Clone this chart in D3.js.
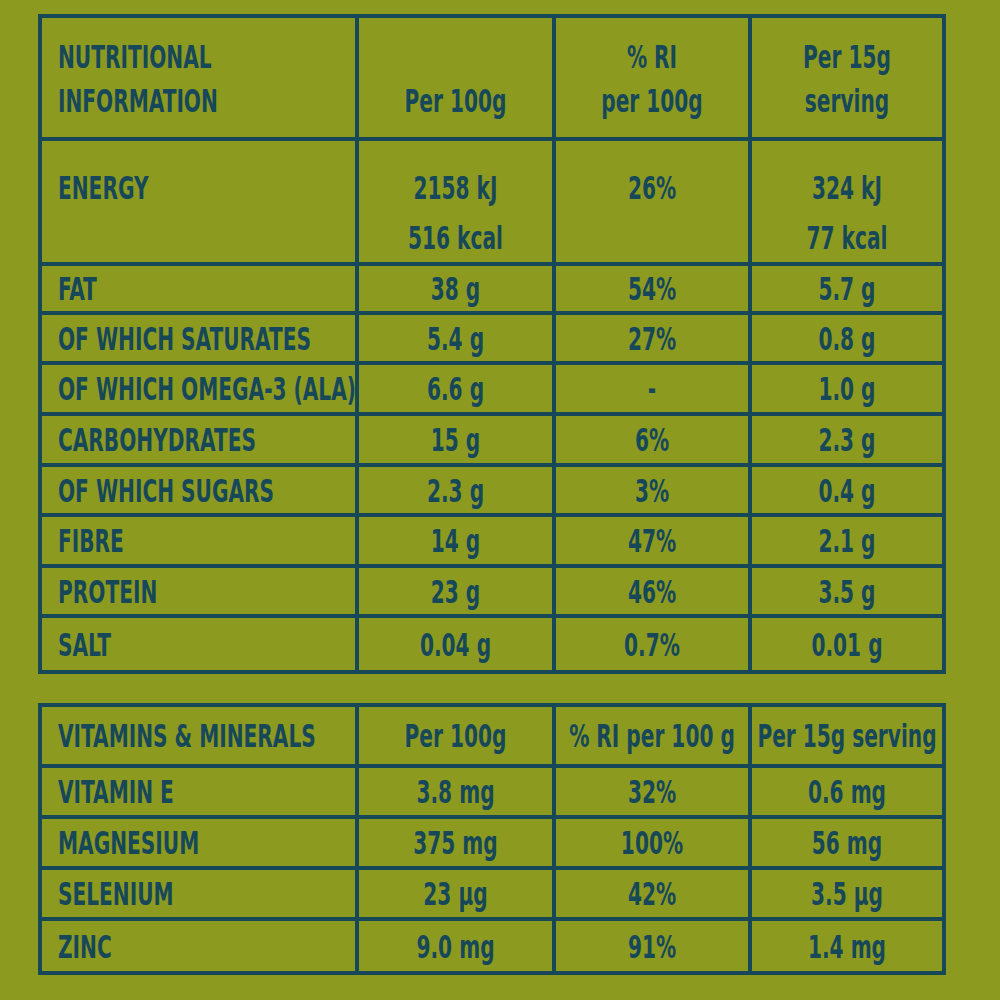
<!DOCTYPE html>
<html><head><meta charset="utf-8">
<script src="https://cdn.jsdelivr.net/npm/d3@7"></script>
<style>body{margin:0;background:#8d9a20;}</style>
</head><body>
<script>
const nutrients = ["ENERGY","FAT","OF WHICH SATURATES","OF WHICH OMEGA-3 (ALA)","CARBOHYDRATES","OF WHICH SUGARS","FIBRE","PROTEIN","SALT"];
const per100 = [["2158 kJ","516 kcal"],"38 g","5.4 g","6.6 g","15 g","2.3 g","14 g","23 g","0.04 g"];
const riPer100 = ["26%","54%","27%","-","6%","3%","47%","46%","0.7%"];
const perServing = [["324 kJ","77 kcal"],"5.7 g","0.8 g","1.0 g","2.3 g","0.4 g","2.1 g","3.5 g","0.01 g"];
const headers1 = [["NUTRITIONAL","INFORMATION"],["Per 100g"],["% RI","per 100g"],["Per 15g","serving"]];

const minerals = ["VITAMIN E","MAGNESIUM","SELENIUM","ZINC"];
const minPer100 = ["3.8 mg","375 mg","23 µg","9.0 mg"];
const minRi = ["32%","100%","42%","91%"];
const minServing = ["0.6 mg","56 mg","3.5 µg","1.4 mg"];
const headers2 = ["VITAMINS & MINERALS","Per 100g","% RI per 100 g","Per 15g serving"];

const W = 1000, H = 1000, ink = "#16485a";
const svg = d3.select("body").append("svg").attr("width", W).attr("height", H);
svg.append("rect").attr("width", W).attr("height", H).attr("fill", "#8d9a20");

const colEdges = [40, 357, 554, 750, 944];
const font = "'DejaVu Sans Condensed','Liberation Sans Narrow',sans-serif";

function drawTable(top, rowHeights, cells, isMain) {
  const edges = [top];
  rowHeights.forEach(h => edges.push(edges[edges.length - 1] + h));
  const g = svg.append("g");
  g.selectAll(".h").data(edges).join("line")
    .attr("x1", colEdges[0] - 2).attr("x2", colEdges[4] + 2)
    .attr("y1", d => d).attr("y2", d => d)
    .attr("stroke", ink).attr("stroke-width", 4);
  g.selectAll(".v").data(colEdges).join("line")
    .attr("x1", d => d).attr("x2", d => d)
    .attr("y1", top).attr("y2", edges[edges.length - 1])
    .attr("stroke", ink).attr("stroke-width", 4);
  cells.forEach((row, r) => {
    row.forEach((val, c) => {
      const lines = Array.isArray(val) ? val : [val];
      const y0 = edges[r], y1 = edges[r + 1];
      let startY, lh = 50;
      if (isMain && r === 0) { lh = 44; startY = lines.length > 1 ? y0 + 52 : y0 + 96; }
      else if (isMain && r === 1) startY = y0 + 60;
      else startY = (y0 + y1) / 2 + 12;
      const x = c === 0 ? colEdges[0] + 18 : (colEdges[c] + colEdges[c + 1]) / 2;
      lines.forEach((t, i) => {
        g.append("text")
          .attr("x", x).attr("y", startY + i * lh)
          .attr("text-anchor", c === 0 ? "start" : "middle")
          .attr("font-family", font).attr("font-weight", "bold")
          .attr("font-size", 32).attr("fill", ink)
          .attr("transform", `translate(${x},0) scale(0.7,1) translate(${-x},0)`)
          .text(t);
      });
    });
  });
}

const cells1 = [headers1].concat(nutrients.map((n, i) => [n, per100[i], riPer100[i], perServing[i]]));
drawTable(16, [123, 125, 49, 50, 51, 51, 50, 51, 50, 56], cells1, true);

const cells2 = [headers2].concat(minerals.map((n, i) => [n, minPer100[i], minRi[i], minServing[i]]));
drawTable(705, [61, 51, 51, 51, 54], cells2, false);
</script>
</body></html>
